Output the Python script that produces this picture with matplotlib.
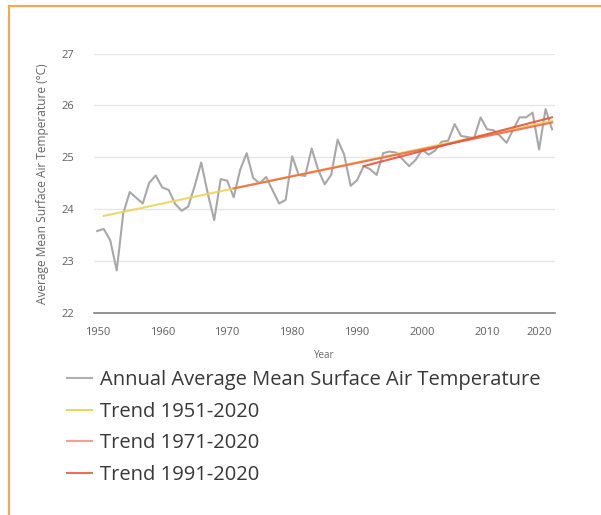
import matplotlib
matplotlib.use('Agg')
import matplotlib.pyplot as plt
from matplotlib.lines import Line2D
import numpy as np

plt.rcParams['font.family'] = ['Open Sans', 'DejaVu Sans']

# annual average mean surface air temperature (deg C), 1950-2020
years = list(range(1950, 2021))
temps = [23.58, 23.62, 23.40, 22.82, 23.92, 24.33, 24.22, 24.11, 24.51, 24.65,
         24.42, 24.37, 24.10, 23.97, 24.05, 24.45, 24.90, 24.31, 23.79, 24.58,
         24.55, 24.23, 24.76, 25.08, 24.60, 24.50, 24.62, 24.36, 24.11, 24.18,
         25.02, 24.66, 24.64, 25.17, 24.76, 24.48, 24.66, 25.34, 25.05, 24.45,
         24.56, 24.83, 24.77, 24.66, 25.08, 25.11, 25.09, 24.96, 24.83, 24.95,
         25.15, 25.05, 25.13, 25.30, 25.32, 25.64, 25.41, 25.39, 25.37, 25.77,
         25.54, 25.52, 25.41, 25.28, 25.53, 25.77, 25.77, 25.86, 25.15, 25.93,
         25.54]

# trend lines: start year, end year, start value, end value
trend_labels = ['Trend 1951-2020', 'Trend 1971-2020', 'Trend 1991-2020']
trend_years = [(1951, 2020), (1971, 2020), (1991, 2020)]
trend_values = [(23.87, 25.70), (24.40, 25.67), (24.83, 25.77)]
trend_colors = ['#eed35b', '#ee6c4c', '#e4553d']
legend_colors = ['#b0b0b0', '#eed35b', '#f4a09a', '#e8705f']

fig = plt.figure(figsize=(6.01, 5.15), dpi=100)
ax = fig.add_axes([94 / 601, 1 - 313 / 515, (555 - 94) / 601, (313 - 53.5) / 515])

ax.plot(years, temps, color='#a8a8a8', lw=1.5, label='Annual Average Mean Surface Air Temperature')
for lab, yrs, vals, col in zip(trend_labels, trend_years, trend_values, trend_colors):
    ax.plot(yrs, vals, color=col, lw=1.5, alpha=0.9, label=lab)

ax.set_xlim(1949.5, 2020.45)
ax.set_ylim(22, 27)
ax.set_yticks([22, 23, 24, 25, 26, 27])
ax.set_xticks(list(range(1950, 2021, 10)))
ax.grid(axis='y', color='#e6e6e6', lw=1)
ax.set_axisbelow(True)
for s in ['top', 'right', 'left']:
    ax.spines[s].set_visible(False)
ax.spines['bottom'].set_color('#777777')
ax.spines['bottom'].set_linewidth(1.1)
ax.tick_params(axis='both', length=0, labelsize=8, labelcolor='#606060')
ax.tick_params(axis='y', pad=14)
ax.tick_params(axis='x', pad=10)
xt = ax.get_xticklabels()
xt[-1].set_ha('right')

ax.set_xlabel('Year', fontsize=7, color='#666666', labelpad=9)
ax.set_ylabel('Average Mean Surface Air Temperature (°C)', fontsize=8.6, color='#666666', labelpad=9)

handles, labels = ax.get_legend_handles_labels()
leg = fig.legend(handles, labels, loc='upper left', bbox_to_anchor=(67 / 601, 1 - 370 / 515),
                 frameon=False, fontsize=14.5, borderpad=0, borderaxespad=0,
                 handlelength=1.25, handletextpad=0.4, labelspacing=0.58)
for t in leg.get_texts():
    t.set_color('#383838')
for h, c in zip(leg.legend_handles, legend_colors):
    h.set_color(c)
    h.set_alpha(1)

# orange frame (top and left edges)
fig.add_artist(Line2D([9 / 601, 1], [1 - 6 / 515, 1 - 6 / 515], color='#f8a84a', lw=1.5))
fig.add_artist(Line2D([9 / 601, 9 / 601], [0, 1 - 6 / 515], color='#f8a84a', lw=1.5))

fig.savefig('out.png', dpi=100)
